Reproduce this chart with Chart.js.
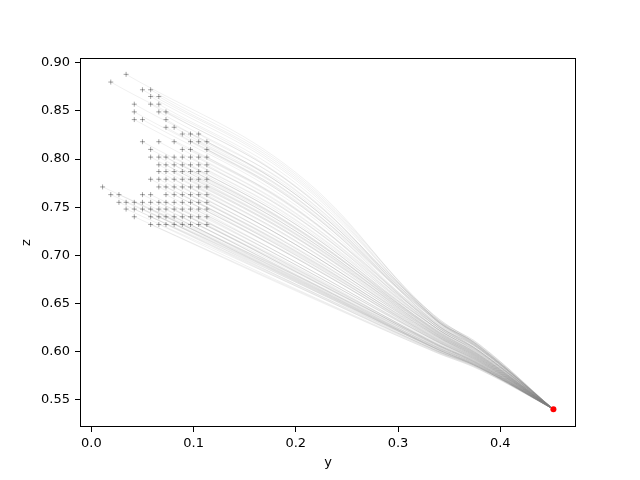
<!DOCTYPE html>
<html>
<head>
<meta charset="utf-8">
<script src="https://cdn.jsdelivr.net/npm/chart.js@4.4.1/dist/chart.umd.min.js"></script>
<style>
  html, body { margin: 0; padding: 0; background: #fff; }
  #wrap { width: 640px; height: 480px; }
</style>
</head>
<body>
<div id="wrap"><canvas id="trajChart" width="640" height="480"></canvas></div>
<script>
// start grid: y of each grid column, z of each grid row, and which columns are used in each row
const colY = [0.011, 0.019, 0.027, 0.034, 0.042, 0.050, 0.058, 0.066, 0.073, 0.081, 0.089, 0.097, 0.105, 0.113];
const startZ = [0.888, 0.880, 0.872, 0.865, 0.857, 0.849, 0.841, 0.833, 0.826, 0.818, 0.810,
                0.802, 0.794, 0.787, 0.779, 0.771, 0.763, 0.755, 0.748, 0.740, 0.732];
const startCols = [
    [3], [1], [5, 6], [6, 7], [4, 6, 7], [4, 7, 8], [4, 5, 8], [8, 9], [10, 11, 12],
    [5, 7, 9, 11, 12, 13], [6, 10, 11, 13],
    [6, 7, 8, 9, 10, 11, 12, 13],
    [7, 8, 9, 10, 11, 12, 13],
    [7, 8, 9, 10, 11, 12, 13],
    [6, 7, 8, 9, 10, 11, 12, 13],
    [0, 7, 8, 9, 10, 11, 12, 13],
    [1, 2, 5, 6, 8, 9, 10, 11, 12, 13],
    [2, 3, 4, 5, 6, 7, 8, 9, 10, 11, 12, 13],
    [3, 4, 5, 6, 7, 8, 9, 10, 11, 12, 13],
    [4, 6, 7, 8, 9, 10, 11, 12, 13],
    [6, 7, 8, 9, 10, 11, 12, 13]
];

// z of each trajectory where it crosses y = 0.2, 0.335 and 0.38 (same layout as startCols)
const waypointY = [0.2, 0.335, 0.38];
const z20 = [
    [.786], [.772], [.780, .784], [.778, .782], [.763, .771, .775], [.755, .767, .771],
    [.748, .752, .763], [.756, .760], [.759, .763, .768],
    [.732, .740, .747, .755, .760, .765], [.729, .743, .748, .757],
    [.722, .725, .728, .732, .736, .740, .744, .749],
    [.718, .721, .725, .728, .732, .737, .741],
    [.711, .714, .718, .722, .725, .729, .734],
    [.702, .705, .708, .711, .715, .719, .723, .727],
    [.679, .698, .701, .704, .707, .711, .715, .719],
    [.675, .677, .685, .688, .693, .697, .700, .703, .707, .711],
    [.672, .674, .676, .679, .682, .684, .687, .690, .693, .697, .700, .704],
    [.668, .670, .673, .675, .678, .680, .683, .686, .690, .693, .697],
    [.664, .669, .672, .674, .677, .680, .683, .686, .690],
    [.663, .665, .668, .670, .673, .676, .679, .683]
];
const z335 = [
    [.635], [.630], [.635, .637], [.635, .637], [.631, .634, .636], [.628, .634, .635],
    [.626, .628, .633], [.630, .632], [.634, .636, .638],
    [.623, .626, .630, .634, .636, .638], [.622, .629, .631, .635],
    [.620, .621, .623, .625, .626, .628, .630, .632],
    [.619, .620, .622, .624, .626, .628, .630],
    [.618, .619, .621, .623, .624, .626, .628],
    [.614, .615, .617, .618, .620, .622, .624, .626],
    [.604, .613, .614, .616, .618, .619, .621, .623],
    [.603, .604, .608, .609, .612, .613, .615, .617, .618, .620],
    [.602, .603, .604, .606, .607, .608, .609, .611, .612, .614, .616, .617],
    [.601, .602, .604, .605, .606, .607, .609, .610, .612, .613, .615],
    [.600, .602, .604, .605, .606, .608, .609, .610, .612],
    [.600, .601, .602, .604, .605, .606, .608, .609]
];
const z38 = [
    [.606], [.603], [.606, .607], [.605, .607], [.602, .604, .605], [.600, .604, .605],
    [.599, .600, .603], [.602, .603], [.603, .604, .605],
    [.596, .598, .600, .602, .604, .605], [.595, .600, .601, .603],
    [.594, .595, .596, .597, .598, .599, .600, .602],
    [.593, .594, .595, .596, .598, .599, .600],
    [.592, .593, .594, .595, .596, .597, .599],
    [.590, .591, .591, .592, .593, .594, .596, .597],
    [.584, .589, .590, .591, .592, .593, .594, .595],
    [.583, .584, .586, .587, .588, .589, .590, .591, .592, .593],
    [.582, .583, .584, .585, .585, .586, .587, .588, .589, .590, .591, .592],
    [.582, .583, .583, .584, .585, .586, .586, .587, .588, .589, .590],
    [.581, .583, .583, .584, .585, .586, .587, .588, .589],
    [.581, .582, .583, .583, .584, .585, .586, .587]
];

// common end point (red)
const endY = 0.452;
const endZ = 0.540;

const xTicks = [0.0, 0.1, 0.2, 0.3, 0.4];
const yTicks = [0.55, 0.60, 0.65, 0.70, 0.75, 0.80, 0.85, 0.90];

document.addEventListener('DOMContentLoaded', function() {
    initializeChart();
});

function buildDatasets() {
    const starts = [];
    const lines = [];
    startZ.forEach((z0, r) => {
        startCols[r].forEach((c, k) => {
            starts.push({ x: colY[c], y: z0 });
            lines.push({
                data: [
                    { x: colY[c], y: z0 },
                    { x: waypointY[0], y: z20[r][k] },
                    { x: waypointY[1], y: z335[r][k] },
                    { x: waypointY[2], y: z38[r][k] },
                    { x: endY, y: endZ }
                ],
                showLine: true,
                borderColor: 'rgba(128, 128, 128, 0.15)',
                borderWidth: 0.8,
                pointRadius: 0,
                tension: 0.4,
                order: 3
            });
        });
    });

    const endSet = {
        data: [{ x: endY, y: endZ }],
        pointRadius: 3,
        pointBackgroundColor: '#ff0000',
        pointBorderColor: '#ff0000',
        borderWidth: 0,
        order: 1
    };
    const startSet = {
        data: starts,
        pointStyle: 'cross',
        pointRadius: 2.5,
        pointBorderColor: 'rgba(0, 0, 0, 0.35)',
        pointBorderWidth: 1,
        order: 2
    };
    return [endSet, startSet].concat(lines);
}

function initializeChart() {
    Chart.defaults.font.family = '"DejaVu Sans", sans-serif';
    Chart.defaults.font.size = 13;
    Chart.defaults.color = '#000';

    const framePlugin = {
        id: 'frame',
        afterDraw(chart) {
            const a = chart.chartArea;
            const ctx = chart.ctx;
            ctx.save();
            ctx.strokeStyle = '#000';
            ctx.lineWidth = 1;
            ctx.strokeRect(Math.round(a.left) + 0.5, Math.round(a.top) + 0.5,
                Math.round(a.right - a.left) - 1, Math.round(a.bottom - a.top) - 1);
            ctx.restore();
        }
    };

    const ctx = document.getElementById('trajChart').getContext('2d');
    const chart = new Chart(ctx, {
        type: 'scatter',
        data: { datasets: buildDatasets() },
        options: {
            responsive: false,
            animation: false,
            devicePixelRatio: 1,
            layout: { padding: { left: 0, top: 58, right: 64, bottom: 0 } },
            plugins: {
                legend: { display: false },
                tooltip: { enabled: false }
            },
            scales: {
                x: {
                    type: 'linear',
                    min: -0.0111,
                    max: 0.4741,
                    afterBuildTicks: (scale) => { scale.ticks = xTicks.map(v => ({ value: v })); },
                    afterFit: (scale) => { scale.height = 53; },
                    ticks: {
                        padding: 4,
                        maxRotation: 0,
                        callback: (v) => Number(v).toFixed(1)
                    },
                    grid: { drawOnChartArea: false, drawTicks: true, tickLength: 5, color: '#000' },
                    border: { display: false },
                    title: { display: true, text: 'y', padding: { top: 10, bottom: 10 } }
                },
                y: {
                    type: 'linear',
                    min: 0.5215,
                    max: 0.9050,
                    afterBuildTicks: (scale) => { scale.ticks = yTicks.map(v => ({ value: v })); },
                    afterFit: (scale) => { scale.width = 80; },
                    ticks: {
                        padding: 5,
                        callback: (v) => Number(v).toFixed(2)
                    },
                    grid: { drawOnChartArea: false, drawTicks: true, tickLength: 5, color: '#000' },
                    border: { display: false },
                    title: { display: true, text: 'z', padding: { top: 19, bottom: 19 } }
                }
            }
        },
        plugins: [framePlugin]
    });

    window.trajChart = chart;
}
</script>
</body>
</html>
